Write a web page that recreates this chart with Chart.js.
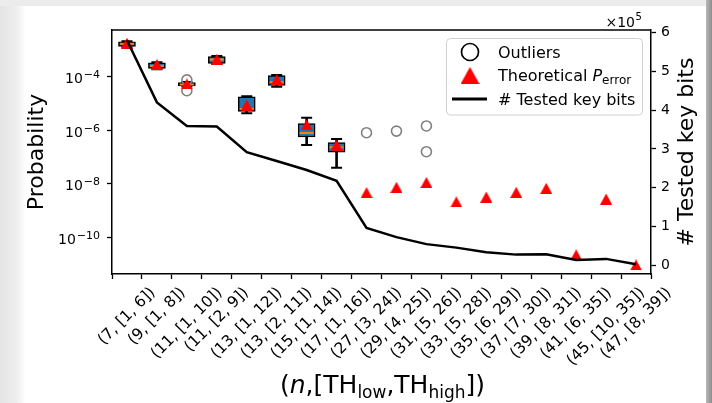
<!DOCTYPE html>
<html>
<head>
<meta charset="utf-8">
<script src="https://cdn.jsdelivr.net/npm/chart.js@4.4.0/dist/chart.umd.min.js"></script>
<style>
  html, body { margin: 0; padding: 0; background: #fff; }
  #wrap { position: relative; width: 712px; height: 403px; overflow: hidden; background: #fff; }
  .edge-left { position: absolute; left: 0; top: 0; width: 26px; height: 403px; background: linear-gradient(to right, #e4e4e4, #eeeeee 16px, #ffffff 26px); }
  .edge-top { position: absolute; left: 0; top: 0; width: 712px; height: 6px; background: #ececec; }
  .edge-right { position: absolute; right: 0; top: 0; width: 6px; height: 403px; background: linear-gradient(to right, #b8b8b8, #8e8e8e); }
  canvas { position: absolute; left: 0; top: 0; }
</style>
</head>
<body>
<div id="wrap">
  <div class="edge-left"></div>
  <div class="edge-top"></div>
  <div class="edge-right"></div>
  <canvas id="chart" width="712" height="403"></canvas>
</div>
<script>
const categories = [
  "(7, [1, 6])", "(9, [1, 8])", "(11, [1, 10])", "(11, [2, 9])", "(13, [1, 12])",
  "(13, [2, 11])", "(15, [1, 14])", "(17, [1, 16])", "(27, [3, 24])", "(29, [4, 25])",
  "(31, [5, 26])", "(33, [5, 28])", "(35, [6, 29])", "(37, [7, 30])", "(39, [8, 31])",
  "(41, [6, 35])", "(45, [10, 35])", "(47, [8, 39])"
];

// theoretical P_error (red triangles)
const theoretical = [
  1.78e-3, 2.88e-4, 5.4e-5, 4.47e-4, 8.7e-6, 7.9e-5, 1.58e-6, 2.8e-7, 4.7e-9, 7.4e-9,
  1.12e-8, 2.1e-9, 3.2e-9, 4.8e-9, 6.8e-9, 2.2e-11, 2.7e-9, 9.3e-12
];

// measured error rates, box plots for the first 8 configurations
const boxLow    = [1.26e-3, 1.9e-4, 4.3e-5, 3.0e-4, 4.3e-6, 4.2e-5, 2.8e-7, 4.0e-8];
const boxQ1     = [1.35e-3, 2.04e-4, 4.5e-5, 3.16e-4, 5.0e-6, 4.7e-5, 5.6e-7, 1.51e-7];
const boxMedian = [1.7e-3, 2.5e-4, 5.1e-5, 4.4e-4, 6.3e-6, 6.3e-5, 7.9e-7, 2.3e-7];
const boxQ3     = [2.0e-3, 3.3e-4, 6.0e-5, 5.6e-4, 1.78e-5, 1.11e-4, 1.78e-6, 3.5e-7];
const boxHigh   = [2.1e-3, 3.5e-4, 6.3e-5, 5.9e-4, 1.86e-5, 1.17e-4, 2.95e-6, 4.7e-7];

const outlierIndex  = [2, 2, 8, 9, 10, 10];
const outlierValues = [7.6e-5, 3.0e-5, 8.1e-7, 9.3e-7, 1.45e-6, 1.58e-7];

// number of tested key bits (right axis)
const testedBits = [
  580000, 420000, 359000, 358000, 292000, 269000, 246000, 218000, 97000, 73000,
  55000, 46000, 34000, 28000, 29000, 14000, 17000, 3000
];

const probTicks = [1e-4, 1e-6, 1e-8, 1e-10];
const bitTicks = [0, 100000, 200000, 300000, 400000, 500000, 600000];

const FONT = "DejaVu Sans";
Chart.defaults.font.family = FONT;

function triangleImage(w, h, color) {
  const c = document.createElement("canvas");
  c.width = w; c.height = h;
  const g = c.getContext("2d");
  g.fillStyle = color;
  g.beginPath();
  g.moveTo(w / 2, 0);
  g.lineTo(w, h);
  g.lineTo(0, h);
  g.closePath();
  g.fill();
  return c;
}

const triSmall = triangleImage(12, 11, "#ff0000");
const triLegend = triangleImage(19, 17, "#ff0000");

function drawRich(ctx, parts, cx, baseline) {
  let total = 0;
  parts.forEach(p => {
    ctx.font = (p.italic ? "italic " : "") + p.size + "px " + FONT;
    p.w = ctx.measureText(p.t).width;
    total += p.w;
  });
  let x = cx - total / 2;
  ctx.textAlign = "left";
  ctx.textBaseline = "alphabetic";
  parts.forEach(p => {
    ctx.font = (p.italic ? "italic " : "") + p.size + "px " + FONT;
    ctx.fillText(p.t, x, baseline + (p.dy || 0));
    x += p.w;
  });
}

const decorations = {
  id: "decorations",
  afterDraw(chart) {
    const { ctx, chartArea: a, scales } = chart;
    ctx.save();
    ctx.fillStyle = "#000";
    ctx.strokeStyle = "#000";

    // top spine
    ctx.lineWidth = 1.5;
    ctx.beginPath();
    ctx.moveTo(a.left, a.top);
    ctx.lineTo(a.right, a.top);
    ctx.stroke();

    // x tick labels, rotated 45 and centred under the tick
    const xs = 15.5;
    ctx.font = xs + "px " + FONT;
    ctx.textAlign = "center";
    ctx.textBaseline = "middle";
    categories.forEach((lab, i) => {
      const x = scales.x.getPixelForValue(i);
      const w = ctx.measureText(lab).width;
      const half = (w + xs * 1.16) * Math.SQRT1_2 / 2;
      ctx.save();
      ctx.translate(x, a.bottom + 10 + half);
      ctx.rotate(-Math.PI / 4);
      ctx.fillText(lab, 0, 0);
      ctx.restore();
    });

    // left tick labels 10^-n
    probTicks.forEach(v => {
      const y = scales.prob.getPixelForValue(v);
      const exp = "\u2212" + Math.round(-Math.log10(v));
      ctx.font = "11px " + FONT;
      const ew = ctx.measureText(exp).width;
      ctx.font = "14px " + FONT;
      const bw = ctx.measureText("10").width;
      const right = a.left - 12;
      ctx.textAlign = "left";
      ctx.textBaseline = "alphabetic";
      ctx.fillText("10", right - ew - bw - 1, y + 6.5);
      ctx.font = "11px " + FONT;
      ctx.fillText(exp, right - ew, y + 1.6);
    });

    // offset text of the right axis
    ctx.font = "14px " + FONT;
    ctx.textAlign = "right";
    ctx.fillText("\u00d710", 635, 26.5);
    ctx.font = "10px " + FONT;
    ctx.textAlign = "left";
    ctx.fillText("5", 635.5, 20);

    // axis titles
    ctx.font = "22px " + FONT;
    ctx.textAlign = "center";
    ctx.textBaseline = "middle";
    ctx.save();
    ctx.translate(37.5, (a.top + a.bottom) / 2);
    ctx.rotate(-Math.PI / 2);
    ctx.fillText("Probability", 0, 0);
    ctx.restore();
    ctx.save();
    ctx.translate(687.5, (a.top + a.bottom) / 2);
    ctx.rotate(-Math.PI / 2);
    ctx.fillText("# Tested key bits", 0, 0);
    ctx.restore();

    drawRich(ctx, [
      { t: "(", size: 25 },
      { t: "n", size: 25, italic: true },
      { t: ",[TH", size: 25 },
      { t: "low", size: 17, dy: 4.5 },
      { t: ",TH", size: 25 },
      { t: "high", size: 17, dy: 4.5 },
      { t: "])", size: 25 }
    ], (a.left + a.right) / 2 + 1, 393);

    // legend
    const lx = 446.5, ly = 38.5, lw = 196, lh = 76.5;
    ctx.beginPath();
    ctx.roundRect(lx, ly, lw, lh, 4);
    ctx.fillStyle = "rgba(255,255,255,0.85)";
    ctx.fill();
    ctx.strokeStyle = "#d0d0d0";
    ctx.lineWidth = 1;
    ctx.stroke();

    ctx.fillStyle = "#000";
    ctx.strokeStyle = "#000";
    ctx.lineWidth = 1.7;
    ctx.beginPath();
    ctx.arc(470, 52, 8.5, 0, Math.PI * 2);
    ctx.stroke();
    ctx.drawImage(triLegend, 470 - 9.5, 75.5 - 8.5);
    ctx.lineWidth = 2.8;
    ctx.beginPath();
    ctx.moveTo(452, 99);
    ctx.lineTo(487, 99);
    ctx.stroke();

    ctx.textAlign = "left";
    ctx.textBaseline = "alphabetic";
    ctx.font = "16px " + FONT;
    ctx.fillText("Outliers", 498, 57.8);
    ctx.fillText("# Tested key bits", 498, 104.8);
    let tx = 498;
    ctx.fillText("Theoretical ", tx, 81);
    tx += ctx.measureText("Theoretical ").width;
    ctx.font = "italic 16px " + FONT;
    ctx.fillText("P", tx, 81);
    tx += ctx.measureText("P").width;
    ctx.font = "12px " + FONT;
    ctx.fillText("error", tx, 83.5);

    ctx.restore();
  }
};

const tickGrid = { display: true, drawOnChartArea: false, drawTicks: true, tickLength: 5, tickWidth: 1.3, tickColor: "#000" };
const blackBorder = { display: true, color: "#000", width: 1.5 };

new Chart(document.getElementById("chart"), {
  type: "bar",
  data: {
    labels: categories,
    datasets: [
      {
        type: "line", label: "# Tested key bits", data: testedBits, yAxisID: "bits",
        borderColor: "#000", borderWidth: 2.5, pointRadius: 0, fill: false, tension: 0, order: 0
      },
      {
        type: "line", label: "Theoretical", data: theoretical, yAxisID: "prob",
        showLine: false, pointStyle: triSmall, pointRadius: 6, order: 1
      },
      {
        type: "line", label: "Outliers", yAxisID: "prob",
        data: outlierIndex.map((i, k) => ({ x: categories[i], y: outlierValues[k] })),
        showLine: false, pointStyle: "circle", pointRadius: 5, pointBorderWidth: 1.6,
        pointBorderColor: "#808080", pointBackgroundColor: "rgba(0,0,0,0)", order: 2
      },
      {
        type: "line", label: "median", data: boxMedian, yAxisID: "prob",
        showLine: false, pointStyle: "line", pointRadius: 7, pointBorderWidth: 2,
        pointBorderColor: "#ff7f0e", order: 3
      },
      {
        type: "bar", label: "box", data: boxQ1.map((q, i) => [q, boxQ3[i]]), yAxisID: "prob",
        backgroundColor: "#1f77b4", borderColor: "#000", borderWidth: 1.5, borderSkipped: false,
        barThickness: 17, grouped: false, order: 4
      },
      {
        type: "line", label: "capLow", data: boxLow, yAxisID: "prob",
        showLine: false, pointStyle: "line", pointRadius: 5.5, pointBorderWidth: 2,
        pointBorderColor: "#000", order: 5
      },
      {
        type: "line", label: "capHigh", data: boxHigh, yAxisID: "prob",
        showLine: false, pointStyle: "line", pointRadius: 5.5, pointBorderWidth: 2,
        pointBorderColor: "#000", order: 5
      },
      {
        type: "bar", label: "whisker", data: boxLow.map((lo, i) => [lo, boxHigh[i]]), yAxisID: "prob",
        backgroundColor: "#000", borderWidth: 0, barThickness: 2, grouped: false, order: 6
      }
    ]
  },
  options: {
    responsive: false,
    animation: false,
    events: [],
    layout: { padding: { top: 30, left: 0, right: 0, bottom: 0 } },
    plugins: { legend: { display: false }, tooltip: { enabled: false } },
    scales: {
      x: {
        offset: true,
        grid: tickGrid,
        border: blackBorder,
        ticks: { display: false },
        afterFit: s => { s.height = 129; }
      },
      prob: {
        type: "logarithmic",
        position: "left",
        min: Math.pow(10, -11.37),
        max: Math.pow(10, -2.255),
        grid: tickGrid,
        border: blackBorder,
        ticks: { display: false },
        afterBuildTicks: s => { s.ticks = probTicks.map(v => ({ value: v })); },
        afterFit: s => { s.width = 112; }
      },
      bits: {
        type: "linear",
        position: "right",
        min: -21900,
        max: 606400,
        grid: tickGrid,
        border: blackBorder,
        ticks: {
          color: "#000",
          font: { family: FONT, size: 14 },
          padding: 5,
          callback: v => String(Math.round(v / 1e5))
        },
        afterBuildTicks: s => { s.ticks = bitTicks.map(v => ({ value: v })); },
        afterFit: s => { s.width = 61; }
      }
    }
  },
  plugins: [decorations]
});
</script>
</body>
</html>
